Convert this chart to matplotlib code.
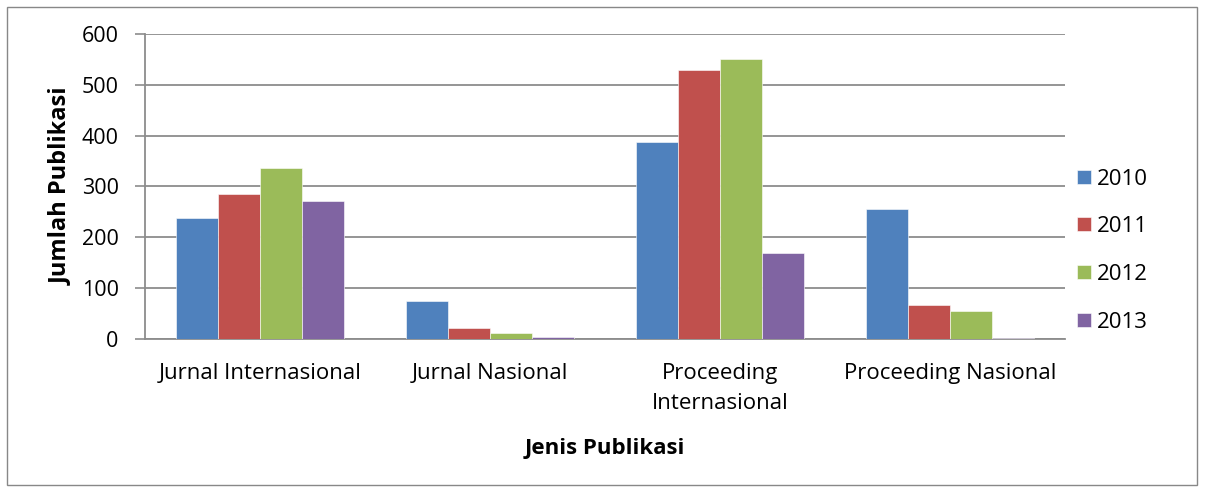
import matplotlib.pyplot as plt
import numpy as np
from matplotlib.patches import Rectangle

categories = ['Jurnal Internasional', 'Jurnal Nasional', 'Proceeding\nInternasional', 'Proceeding Nasional']
years = ['2010', '2011', '2012', '2013']
v2010 = [239, 74, 388, 256]
v2011 = [286, 21, 529, 66]
v2012 = [337, 12, 551, 56]
v2013 = [272, 3, 170, 1]
colors = ['#4F81BD', '#C0504D', '#9BBB59', '#8064A2']

plt.rcParams['font.family'] = ['Open Sans', 'DejaVu Sans']

fig = plt.figure(figsize=(12.05, 4.92), dpi=100)
ax = fig.add_axes([145/1205, 1-339/492, 920/1205, 305/492])

# outer chart border
fig.patches.append(Rectangle((7/1205, 7/492), 1190/1205, 478/492, transform=fig.transFigure,
                             fill=False, edgecolor='#888888', linewidth=1))

x = np.arange(len(categories))
w = 1/5.5
series = [v2010, v2011, v2012, v2013]
for i, (vals, c, yr) in enumerate(zip(series, colors, years)):
    ax.bar(x + (i - 1.5)*w, vals, w, color=c, edgecolor='white', linewidth=0.4, label=yr, zorder=3)

ax.set_xlim(-0.5, 3.5)
ax.set_ylim(0, 600)
ax.set_yticks(range(0, 601, 100))
ax.yaxis.grid(True, color='#8c8c8c', linewidth=1.3, zorder=0)
ax.set_xticks(x)
ax.set_xticklabels(categories, fontsize=16, linespacing=1.6)
ax.tick_params(axis='x', length=0, pad=17)
ax.tick_params(axis='y', length=7, color='#8c8c8c', width=1.2, labelsize=15.5, pad=12)
for s in ['top', 'right']:
    ax.spines[s].set_visible(False)
ax.spines['left'].set_color('#8c8c8c')
ax.spines['bottom'].set_color('#8c8c8c')
ax.spines['left'].set_linewidth(1.3)
ax.spines['bottom'].set_linewidth(1.3)

ax.set_ylabel('Jumlah Publikasi', fontsize=17, fontweight='bold', labelpad=6)
ax.set_xlabel('Jenis Publikasi', fontsize=16, fontweight='bold', labelpad=17)

ax.legend(loc='center left', bbox_to_anchor=(1.0, 0.29), frameon=False, fontsize=16,
          handlelength=0.6, handleheight=0.6, labelspacing=1.2, handletextpad=0.3,
          borderaxespad=0.15)

fig.savefig('out.png', dpi=100)
